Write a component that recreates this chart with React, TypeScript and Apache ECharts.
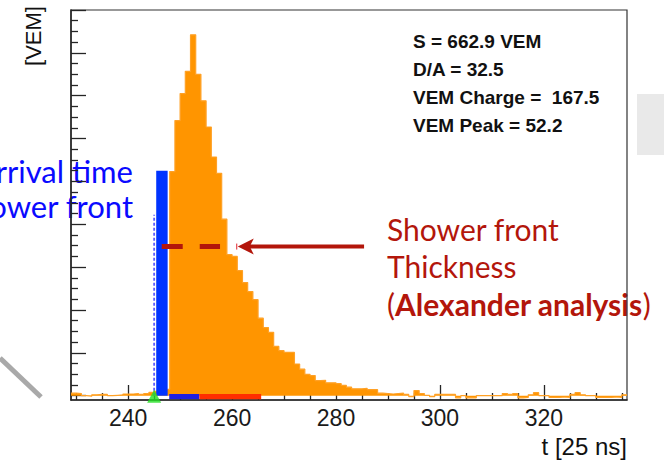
import React, { useEffect, useRef } from "react";
import * as echarts from "echarts";

// ---- data ----
const firstBin = 229; // left edge of first histogram bin, t [25 ns]
const binCounts = [
  0.06, 0.05, 0.0, -0.01, 0.02, 0.03, 0.03, 0.0, 0.01, 0.02, // 229-238
  0.04, 0.04, 0.05, 0.03, 0.05, 0.08, 0.1, 0.12, 0.15, // 239-247
  5.23, 6.42, 7.05, 7.57, 8.42, 7.5, 6.88, 6.27, 5.57, 5.19, // 248-257
  4.12, 3.29, 3.25, 2.92, 2.64, 2.43, 2.24, 1.81, 1.59, 1.48, // 258-267
  1.15, 1.05, 1.01, 1.01, 0.74, 0.62, 0.5, 0.47, 0.35, 0.36, // 268-277
  0.3, 0.3, 0.28, 0.24, 0.2, 0.16, 0.16, 0.17, 0.14, 0.14, // 278-287
  0.06, 0.05, 0.04, 0.05, 0.06, 0.03, -0.02, 0.12, 0.05, 0.01, // 288-297
  -0.02, 0.03, 0.03, 0.03, 0.03, -0.05, 0.0, -0.05, -0.05, 0.0, // 298-307
  0.0, 0.0, 0.0, 0.0, 0.05, 0.03, 0.05, -0.05, -0.04, 0.02, // 308-317
  0.07, 0.0, 0.0, -0.04, -0.04, -0.03, -0.04, 0.03, 0.07, 0.02, // 318-327
  0.0, 0.0, -0.04, -0.04, -0.04, -0.03, -0.04, 0.02, // 328-335
];
const xTickLabels = [240, 260, 280, 300, 320];
const yMajorTicks = [0, 1, 2, 3, 4, 5, 6, 7, 8, 9];
const statsLines = ["S = 662.9 VEM", "D/A = 32.5", "VEM Charge =  167.5", "VEM Peak = 52.2"];
const arrivalBar = [[245.4, 247.6, 5.25]]; // [x0, x1, height]
const arrivalDash = [[245.0, 4.22]]; // [x, height]
const triggerMarker = [[245.0, -0.01]];
const startSegment = [[247.9, 253.7]];
const thicknessSegment = [[253.7, 265.6]];
const thicknessDash = [[246.46, 257.68, 3.48]]; // [x0, x1, y]
const thicknessArrow = [[285.4, 260.9, 3.48]]; // [from, to, y]

const X_MIN = 229;
const X_MAX = 336;
const Y_MIN = -0.1;
const Y_MAX = 9;

const xMinorTicks: number[] = [];
for (let v = 230; v <= 335; v += 5) if (v % 20 !== 0) xMinorTicks.push(v);
const yMinorTicks: number[] = [];
for (let k = 0; k < 9; k++) for (const f of [0.25, 0.5, 0.75]) yMinorTicks.push(k + f);

const histPoints = binCounts.map((v, i) => [firstBin + i, v]);
histPoints.push([firstBin + binCounts.length, binCounts[binCounts.length - 1]]);

const AX = "#252525";
const DARK_RED = "#b3160b";

export default function App() {
  const ref = useRef<HTMLDivElement>(null);
  useEffect(() => {
    document.body.style.margin = "0";
    if (!ref.current) return;
    const chart = echarts.init(ref.current, undefined, { renderer: "svg" });
    const option: any = {
      animation: false,
      grid: {
        left: 71, right: 37, top: 10, bottom: 69,
        show: true, borderColor: "#333", borderWidth: 1.2, backgroundColor: "transparent",
      },
      xAxis: [
        {
          type: "value", min: X_MIN, max: X_MAX, position: "bottom",
          axisLine: { show: true, onZero: false, lineStyle: { color: AX, width: 1.5 } },
          axisTick: { show: true, inside: true, length: 15, customValues: xTickLabels, lineStyle: { color: AX, width: 1.3 } },
          axisLabel: { show: true, customValues: xTickLabels, margin: 6, fontSize: 23, fontFamily: "Liberation Sans", color: "#1a1a1a" },
          splitLine: { show: false },
        },
        {
          type: "value", min: X_MIN, max: X_MAX, position: "bottom",
          axisLine: { show: false, onZero: false },
          axisTick: { show: true, inside: true, length: 7, customValues: xMinorTicks, lineStyle: { color: AX, width: 1.3 } },
          axisLabel: { show: false },
          splitLine: { show: false },
        },
      ],
      yAxis: [
        {
          type: "value", min: Y_MIN, max: Y_MAX, position: "left",
          axisLine: { show: true, onZero: false, lineStyle: { color: AX, width: 1.5 } },
          axisTick: { show: true, inside: true, length: 15, customValues: yMajorTicks, lineStyle: { color: AX, width: 1.3 } },
          axisLabel: { show: false },
          splitLine: { show: false },
        },
        {
          type: "value", min: Y_MIN, max: Y_MAX, position: "left",
          axisLine: { show: false, onZero: false },
          axisTick: { show: true, inside: true, length: 7, customValues: yMinorTicks, lineStyle: { color: AX, width: 1.3 } },
          axisLabel: { show: false },
          splitLine: { show: false },
        },
      ],
      series: [
        {
          type: "line", name: "signal", data: histPoints, step: "end", showSymbol: false,
          lineStyle: { color: "#ffa126", width: 1.2 },
          areaStyle: { color: "#ff9500", opacity: 1 },
          z: 2,
        },
        {
          type: "custom", name: "arrival", data: arrivalBar, z: 3,
          renderItem: (_p: any, api: any) => {
            const a = api.coord([api.value(0), api.value(2)]);
            const b = api.coord([api.value(1), 0]);
            return { type: "rect", shape: { x: a[0], y: a[1], width: b[0] - a[0], height: b[1] - a[1] }, style: { fill: "#0033ff" } };
          },
        },
        {
          type: "custom", name: "arrivalDash", data: arrivalDash, z: 3,
          renderItem: (_p: any, api: any) => {
            const a = api.coord([api.value(0), 0]);
            const b = api.coord([api.value(0), api.value(1)]);
            return { type: "line", shape: { x1: a[0], y1: a[1], x2: b[0], y2: b[1] }, style: { stroke: "#5a5aff", lineWidth: 1.8, lineDash: [3, 2] } };
          },
        },
        {
          type: "custom", name: "start", data: startSegment, z: 3,
          renderItem: (_p: any, api: any) => {
            const a = api.coord([api.value(0), 0.04]);
            const b = api.coord([api.value(1), -0.08]);
            return { type: "rect", shape: { x: a[0], y: a[1], width: b[0] - a[0], height: b[1] - a[1] }, style: { fill: "#1f1fe0" } };
          },
        },
        {
          type: "custom", name: "thickness", data: thicknessSegment, z: 3,
          renderItem: (_p: any, api: any) => {
            const a = api.coord([api.value(0), 0.04]);
            const b = api.coord([api.value(1), -0.08]);
            return { type: "rect", shape: { x: a[0], y: a[1], width: b[0] - a[0], height: b[1] - a[1] }, style: { fill: "#ff2e00" } };
          },
        },
        {
          type: "custom", name: "thicknessDash", data: thicknessDash, z: 4,
          renderItem: (_p: any, api: any) => {
            const a = api.coord([api.value(0), api.value(2)]);
            const b = api.coord([api.value(1), api.value(2)]);
            return { type: "line", shape: { x1: a[0], y1: a[1], x2: b[0], y2: b[1] }, style: { stroke: DARK_RED, lineWidth: 5, lineDash: [21, 17] } };
          },
        },
        {
          type: "custom", name: "arrow", data: thicknessArrow, z: 4,
          renderItem: (_p: any, api: any) => {
            const f = api.coord([api.value(0), api.value(2)]);
            const t = api.coord([api.value(1), api.value(2)]);
            return {
              type: "group",
              children: [
                { type: "line", shape: { x1: f[0], y1: f[1], x2: t[0] + 12, y2: t[1] }, style: { stroke: DARK_RED, lineWidth: 4 } },
                { type: "polygon", shape: { points: [[t[0] + 1, t[1]], [t[0] + 17, t[1] - 8], [t[0] + 13, t[1]], [t[0] + 17, t[1] + 8]] }, style: { fill: DARK_RED } },
                { type: "line", shape: { x1: t[0], y1: t[1] - 3, x2: t[0], y2: t[1] + 3 }, style: { stroke: "#e0202a", lineWidth: 1 } },
              ],
            };
          },
        },
        {
          type: "scatter", name: "trigger", data: triggerMarker, symbol: "triangle", symbolSize: [14, 13],
          itemStyle: { color: "#22e022" }, clip: false, z: 5,
        },
      ],
      graphic: [
        { type: "line", shape: { x1: 0, y1: 358, x2: 41, y2: 397 }, style: { stroke: "#a9a9a9", lineWidth: 5 }, z: -1 },
        { type: "rect", shape: { x: 637, y: 94, width: 27, height: 61 }, style: { fill: "#e9e9e9" }, z: -1 },
        {
          type: "text", x: 33, y: 36, rotation: Math.PI / 2,
          style: { text: "[VEM]", x: 0, y: 0, align: "center", verticalAlign: "middle", font: "22px 'Liberation Sans'", fill: "#111" },
        },
        {
          type: "text", x: 627, y: 446,
          style: { text: "t [25 ns]", x: 0, y: 0, align: "right", verticalAlign: "middle", font: "24px 'Liberation Sans'", fill: "#111" },
        },
        {
          type: "text", x: 413, y: 27,
          style: { text: statsLines.join("\n"), font: "bold 19px 'Liberation Sans'", lineHeight: 28, fill: "#111", verticalAlign: "top", align: "left" },
        },
        {
          type: "text", x: 133, y: 153, z: -1,
          style: { text: "Arrival time\nof shower front", font: "31px Lato", lineHeight: 35, fill: "#0a0aff", align: "right", verticalAlign: "top" },
        },
        {
          type: "text", x: 387, y: 210, z: -1,
          style: {
            text: "{n|Shower front}\n{n|Thickness}\n{n|(}{b|Alexander analysis}{n|)}",
            verticalAlign: "top", align: "left",
            rich: {
              n: { fontFamily: "Lato", fontSize: 30, lineHeight: 37.5, fill: DARK_RED, color: DARK_RED },
              b: { fontFamily: "Lato", fontSize: 30, fontWeight: "bold", lineHeight: 37.5, fill: DARK_RED, color: DARK_RED },
            },
          },
        },
      ],
    };
    chart.setOption(option);
    return () => chart.dispose();
  }, []);
  return <div ref={ref} style={{ width: 664, height: 469 }} />;
}
